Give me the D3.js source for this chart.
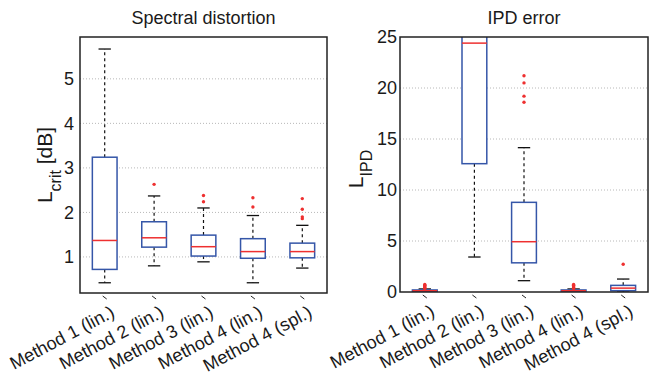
<!DOCTYPE html>
<html>
<head>
<meta charset="utf-8">
<script src="https://cdn.jsdelivr.net/npm/d3@7"></script>
<style>
  html, body { margin: 0; padding: 0; background: #fff; }
  svg text { font-family: "Liberation Sans", Arial, Helvetica, sans-serif; fill: #1a1a1a; }
</style>
</head>
<body>
<svg id="chart" width="649" height="376"></svg>
<script>
// ---- Data ----
const categories = ["Method 1 (lin.)", "Method 2 (lin.)", "Method 3 (lin.)", "Method 4 (lin.)", "Method 4 (spl.)"];

// Spectral distortion panel: [whiskerLow, q1, median, q3, whiskerHigh]
const spectralStats = [
  [0.42, 0.72, 1.37, 3.24, 5.67],
  [0.80, 1.22, 1.43, 1.79, 2.37],
  [0.89, 1.02, 1.23, 1.49, 2.10],
  [0.42, 0.97, 1.12, 1.41, 1.93],
  [0.75, 0.98, 1.12, 1.31, 1.71]
];
const spectralOutliers = [
  [],
  [2.63],
  [2.38, 2.24],
  [2.33, 2.12],
  [2.31, 2.07, 1.90, 1.86]
];
const spectralTicks = [1, 2, 3, 4, 5];

// IPD error panel
const ipdStats = [
  [0.00, 0.05, 0.12, 0.20, 0.30],
  [3.43, 12.58, 24.4, 30.0, 40.0],
  [1.11, 2.86, 4.93, 8.79, 14.15],
  [0.00, 0.05, 0.12, 0.20, 0.30],
  [0.00, 0.13, 0.38, 0.65, 1.27]
];
const ipdOutliers = [
  [0.35, 0.42, 0.5, 0.58, 0.66, 0.74],
  [],
  [21.2, 20.5, 19.2, 18.6],
  [0.35, 0.42, 0.5, 0.58, 0.66, 0.74],
  [2.72]
];
const ipdTicks = [0, 5, 10, 15, 20, 25];

// ---- Drawing ----
const svg = d3.select("#chart");
const BLUE = "#3556a8", RED = "#ee3030";

function panel(opts) {
  const { x0, x1, y0, y1, domain, stats, outliers, ticks, gridTicks, title, ysub, ysuffix, id, ylabX, ylabY, tickGap } = opts;
  const x = d3.scaleLinear().domain([0.5, categories.length + 0.5]).range([x0, x1]);
  const y = d3.scaleLinear().domain(domain).range([y1, y0]);
  const g = svg.append("g");

  g.append("clipPath").attr("id", id).append("rect")
    .attr("x", x0).attr("y", y0).attr("width", x1 - x0).attr("height", y1 - y0);

  // grid
  g.append("g").selectAll("line").data(gridTicks).join("line")
    .attr("x1", x0).attr("x2", x1)
    .attr("y1", d => y(d)).attr("y2", d => y(d))
    .attr("stroke", "#b8b8b8").attr("stroke-width", 1).attr("stroke-dasharray", "1,2");

  const plot = g.append("g").attr("clip-path", `url(#${id})`);
  const bw = 0.5, cw = 0.25;
  stats.forEach((s, i) => {
    const cx = i + 1;
    const [wl, q1, med, q3, wh] = s;
    plot.append("line").attr("x1", x(cx)).attr("x2", x(cx)).attr("y1", y(q3)).attr("y2", y(wh))
      .attr("stroke", "#111").attr("stroke-width", 1.2).attr("stroke-dasharray", "3,3");
    plot.append("line").attr("x1", x(cx)).attr("x2", x(cx)).attr("y1", y(q1)).attr("y2", y(wl))
      .attr("stroke", "#111").attr("stroke-width", 1.2).attr("stroke-dasharray", "3,3");
    [wl, wh].forEach(v => {
      plot.append("line").attr("x1", x(cx - cw / 2)).attr("x2", x(cx + cw / 2)).attr("y1", y(v)).attr("y2", y(v))
        .attr("stroke", "#111").attr("stroke-width", 1.3);
    });
    plot.append("rect").attr("x", x(cx - bw / 2)).attr("width", x(cx + bw / 2) - x(cx - bw / 2))
      .attr("y", y(q3)).attr("height", y(q1) - y(q3))
      .attr("fill", "#fff").attr("stroke", BLUE).attr("stroke-width", 1.5);
    plot.append("line").attr("x1", x(cx - bw / 2)).attr("x2", x(cx + bw / 2)).attr("y1", y(med)).attr("y2", y(med))
      .attr("stroke", RED).attr("stroke-width", 1.5);
    plot.append("g").selectAll("circle").data(outliers[i]).join("circle")
      .attr("cx", x(cx)).attr("cy", d => y(d)).attr("r", 1.7).attr("fill", RED);
  });

  // frame
  g.append("rect").attr("x", x0).attr("y", y0).attr("width", x1 - x0).attr("height", y1 - y0)
    .attr("fill", "none").attr("stroke", "#222").attr("stroke-width", 1.5);

  // y tick labels
  g.append("g").selectAll("text").data(ticks).join("text")
    .attr("x", x0 - tickGap).attr("y", d => y(d)).attr("dy", "0.36em")
    .attr("text-anchor", "end").attr("font-size", 18).text(d => d);

  // x slanted ticks + labels
  categories.forEach((c, i) => {
    const cx = x(i + 1);
    g.append("line").attr("x1", cx - 2).attr("y1", y1 + 3).attr("x2", cx + 2).attr("y2", y1 + 6)
      .attr("stroke", "#222").attr("stroke-width", 1);
    g.append("text").attr("text-anchor", "end").attr("font-size", 18)
      .attr("transform", `translate(${cx + 11},${y1 + 23}) rotate(-28)`).text(c);
  });

  // title
  g.append("text").attr("x", (x0 + x1) / 2).attr("y", 24).attr("text-anchor", "middle")
    .attr("font-size", 18).text(title);

  // y label
  const yl = g.append("text").attr("text-anchor", "middle").attr("font-size", 21)
    .attr("transform", `translate(${ylabX},${ylabY}) rotate(-90)`);
  yl.append("tspan").text("L");
  yl.append("tspan").attr("font-size", 16).attr("dy", 9).text(ysub);
  if (ysuffix) yl.append("tspan").attr("dy", -9).text(ysuffix);
}

panel({
  id: "clipA", x0: 80, x1: 327, y0: 37, y1: 293, domain: [0.19, 5.94],
  stats: spectralStats, outliers: spectralOutliers, ticks: spectralTicks, gridTicks: spectralTicks,
  title: "Spectral distortion", ysub: "crit", ysuffix: " [dB]", ylabX: 52, ylabY: 165, tickGap: 6
});
panel({
  id: "clipB", x0: 400, x1: 648, y0: 37, y1: 292, domain: [0, 25],
  stats: ipdStats, outliers: ipdOutliers, ticks: ipdTicks, gridTicks: [5, 10, 15, 20],
  title: "IPD error", ysub: "IPD", ysuffix: "", ylabX: 363, ylabY: 169, tickGap: 3
});
</script>
</body>
</html>
